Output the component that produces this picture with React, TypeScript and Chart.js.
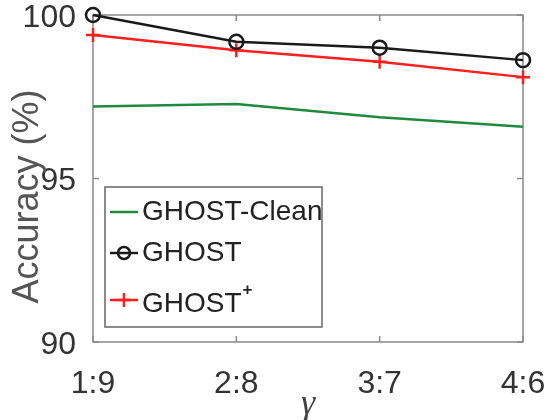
import React, { useEffect, useRef } from "react";
import { Chart, registerables } from "chart.js";

Chart.register(...registerables);

// ---- data ----
const categories = ["1:9", "2:8", "3:7", "4:6"];
const ghostClean = [97.2, 97.28, 96.87, 96.58];
const ghost = [100.0, 99.18, 99.0, 98.62];
const ghostPlus = [99.39, 98.92, 98.57, 98.1];
const yTickValues = [90, 95, 100];
const yMin = 90;
const yMax = 100;
const seriesLabels = ["GHOST-Clean", "GHOST", "GHOST⁺"];
const xTitle = "γ";
const yTitle = "Accuracy (%)";

// ---- styles ----
const SANS = "'Liberation Sans', Arial, sans-serif";
const AXIS_COLOR = "#8a8a8a";
const TEXT_COLOR = "#333333";

const framePlugin = {
  id: "matlabFrame",
  beforeDatasetsDraw(chart: any) {
    const { ctx, chartArea, scales } = chart;
    const { left, right, top, bottom } = chartArea;
    ctx.save();
    ctx.strokeStyle = AXIS_COLOR;
    ctx.lineWidth = 1.5;
    ctx.strokeRect(left, top, right - left, bottom - top);
    const tl = 6;
    ctx.beginPath();
    categories.forEach((_, i) => {
      const x = scales.x.getPixelForValue(i);
      ctx.moveTo(x, bottom);
      ctx.lineTo(x, bottom - tl);
      ctx.moveTo(x, top);
      ctx.lineTo(x, top + tl);
    });
    yTickValues.forEach((v) => {
      const y = scales.y.getPixelForValue(v);
      ctx.moveTo(left, y);
      ctx.lineTo(left + tl, y);
      ctx.moveTo(right, y);
      ctx.lineTo(right - tl, y);
    });
    ctx.stroke();
    ctx.restore();
  },
  afterDraw(chart: any) {
    const { ctx, chartArea } = chart;
    ctx.save();
    ctx.translate(28, (chartArea.top + chartArea.bottom) / 2 + 18);
    ctx.rotate(-Math.PI / 2);
    ctx.font = `36px ${SANS}`;
    ctx.fillStyle = "#555555";
    ctx.textAlign = "center";
    ctx.textBaseline = "middle";
    ctx.fillText(yTitle, 0, 0);
    ctx.restore();
  },
};

const legendPlugin = {
  id: "boxLegend",
  afterDatasetsDraw(chart: any) {
    const { ctx, chartArea } = chart;
    const left = chartArea.left + 12;
    const right = left + 217;
    const bottom = chartArea.bottom - 15;
    const top = bottom - 140;
    ctx.save();
    ctx.fillStyle = "#ffffff";
    ctx.fillRect(left, top, right - left, bottom - top);
    ctx.strokeStyle = "#666666";
    ctx.lineWidth = 1.5;
    ctx.strokeRect(left, top, right - left, bottom - top);
    const rows = [top + 25, top + 66, top + 113];
    chart.data.datasets.forEach((ds: any, i: number) => {
      const y = rows[i];
      const x0 = left + 5;
      const x1 = left + 33;
      const xm = (x0 + x1) / 2;
      ctx.strokeStyle = ds.borderColor;
      ctx.lineWidth = ds.borderWidth;
      ctx.beginPath();
      ctx.moveTo(x0, y);
      ctx.lineTo(x1, y);
      ctx.stroke();
      if (ds.pointRadius > 0 && ds.pointStyle === "circle") {
        ctx.beginPath();
        ctx.arc(xm, y, 6, 0, Math.PI * 2);
        ctx.stroke();
      } else if (ds.pointRadius > 0 && ds.pointStyle === "cross") {
        ctx.beginPath();
        ctx.moveTo(xm - 7, y);
        ctx.lineTo(xm + 7, y);
        ctx.moveTo(xm, y - 7);
        ctx.lineTo(xm, y + 7);
        ctx.stroke();
      }
      ctx.fillStyle = "#222222";
      ctx.textBaseline = "middle";
      ctx.textAlign = "left";
      ctx.font = `28px ${SANS}`;
      const label: string = ds.label;
      if (label.endsWith("⁺")) {
        const base = label.slice(0, -1);
        ctx.fillText(base, left + 37, y + 4);
        const w = ctx.measureText(base).width;
        ctx.font = `bold 17px ${SANS}`;
        ctx.fillText("+", left + 37 + w + 1, y - 10);
      } else {
        ctx.fillText(label, left + 37, y);
      }
    });
    ctx.restore();
  },
};

export default function App() {
  const canvasRef = useRef<HTMLCanvasElement | null>(null);

  useEffect(() => {
    if (!canvasRef.current) return;
    const chart = new Chart(canvasRef.current, {
      type: "line",
      data: {
        labels: categories,
        datasets: [
          {
            label: seriesLabels[0],
            data: ghostClean,
            borderColor: "#1f8a3f",
            borderWidth: 2.5,
            pointRadius: 0,
            pointStyle: false as any,
            clip: false as any,
          },
          {
            label: seriesLabels[1],
            data: ghost,
            borderColor: "#1a1a1a",
            borderWidth: 2.5,
            pointStyle: "circle",
            pointRadius: 7,
            pointBorderWidth: 2.5,
            pointBorderColor: "#1a1a1a",
            pointBackgroundColor: "rgba(0,0,0,0)",
            clip: false as any,
          },
          {
            label: seriesLabels[2],
            data: ghostPlus,
            borderColor: "#ff1f1f",
            borderWidth: 2.5,
            pointStyle: "cross",
            pointRadius: 7,
            pointBorderWidth: 2.5,
            pointBorderColor: "#ff1f1f",
            clip: false as any,
          },
        ],
      },
      options: {
        responsive: false,
        animation: false,
        layout: { padding: { top: 15, right: 26, left: 0, bottom: 0 } },
        plugins: { legend: { display: false }, tooltip: { enabled: false } },
        scales: {
          x: {
            type: "category",
            offset: false,
            grid: { display: false },
            border: { display: false },
            ticks: {
              autoSkip: false,
              maxRotation: 0,
              color: TEXT_COLOR,
              padding: 15,
              font: { family: SANS, size: 32 },
            },
            title: {
              display: true,
              text: xTitle,
              color: "#444444",
              font: { family: "'Liberation Serif', 'DejaVu Serif', serif", size: 36, style: "italic" },
              padding: { top: 0, bottom: -6 },
            },
            afterFit: (s: any) => {
              s.height = 78;
              s.paddingLeft = 0;
              s.paddingRight = 0;
            },
          },
          y: {
            min: yMin,
            max: yMax,
            grid: { display: false },
            border: { display: false },
            afterBuildTicks: (s: any) => {
              s.ticks = yTickValues.map((v) => ({ value: v }));
            },
            ticks: {
              color: TEXT_COLOR,
              padding: 9,
              labelOffset: 3,
              font: { family: SANS, size: 32 },
            },
            afterFit: (s: any) => {
              s.width = 93;
              s.paddingTop = 0;
              s.paddingBottom = 0;
            },
          },
        },
      },
      plugins: [framePlugin, legendPlugin],
    });
    return () => chart.destroy();
  }, []);

  return (
    <div style={{ position: "fixed", left: 0, top: 0, width: 549, height: 420, background: "#fff" }}>
      <canvas ref={canvasRef} width={549} height={420} style={{ display: "block" }} />
    </div>
  );
}
